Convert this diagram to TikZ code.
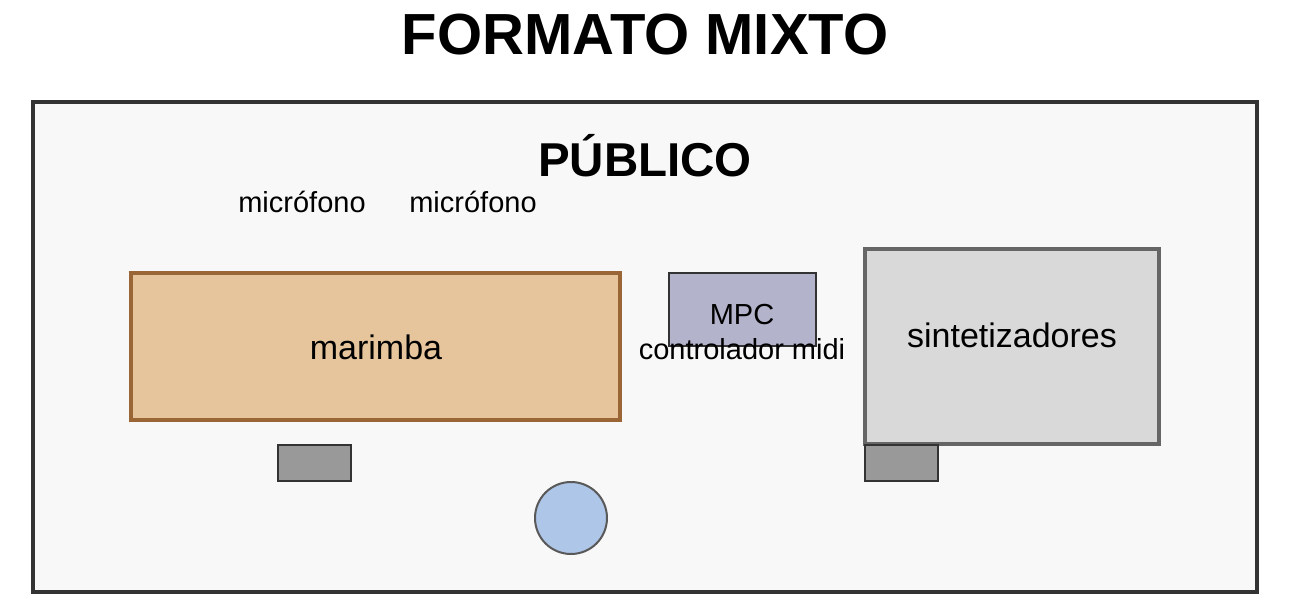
\documentclass[tikz,border=0pt]{standalone}
\usepackage{fontspec}
\setmainfont{Liberation Sans}
\definecolor{stagebg}{HTML}{F8F8F8}
\definecolor{stageline}{HTML}{333333}
\definecolor{marfill}{HTML}{E6C59C}
\definecolor{marline}{HTML}{9A6636}
\definecolor{mpcfill}{HTML}{B3B3CC}
\definecolor{synfill}{HTML}{D9D9D9}
\definecolor{synline}{HTML}{666666}
\definecolor{ampfill}{HTML}{999999}
\definecolor{circfill}{HTML}{AEC6E8}
\definecolor{circline}{HTML}{595959}
\tikzset{
  txt/.style={inner sep=0pt, anchor=base},
  ampbox/.style={draw=stageline, fill=ampfill, line width=2pt},
}
\newcommand{\fs}[1]{\fontsize{#1}{#1}\selectfont}
\begin{document}
\begin{tikzpicture}[x=1pt,y=-1pt]
\useasboundingbox (0,0) rectangle (1292,613);
% stage
\draw[draw=stageline, fill=stagebg, line width=4pt] (33,102) rectangle (1257,592);
% title
\node[txt] (title) at (645,54) {\fs{58}\bfseries FORMATO MIXTO};
\node[txt] (pub) at (645,176) {\fs{47.5}\bfseries PÚBLICO};
\node[txt] (mic1) at (302,212) {\fs{29}micrófono};
\node[txt] (mic2) at (473,212) {\fs{29}micrófono};
% marimba
\draw[draw=marline, fill=marfill, line width=4pt] (131,273) rectangle (620,420);
\node[txt] (mar) at (376,359) {\fs{34}marimba};
% MPC
\draw[draw=stageline, fill=mpcfill, line width=2pt] (669,273) rectangle (816,346);
\node[txt] (mpc) at (742,324) {\fs{29}MPC};
\node[txt] (midi) at (742,359) {\fs{29}controlador midi};
% synths
\draw[draw=synline, fill=synfill, line width=4pt] (865,249) rectangle (1159,444);
\node[txt] (syn) at (1012,347) {\fs{34}sintetizadores};
% amps
\draw[ampbox] (278,445) rectangle (351,481);
\draw[ampbox] (865,445) rectangle (938,481);
% circle
\draw[draw=circline, fill=circfill, line width=2pt] (571,518) circle (36);
\end{tikzpicture}
\end{document}
